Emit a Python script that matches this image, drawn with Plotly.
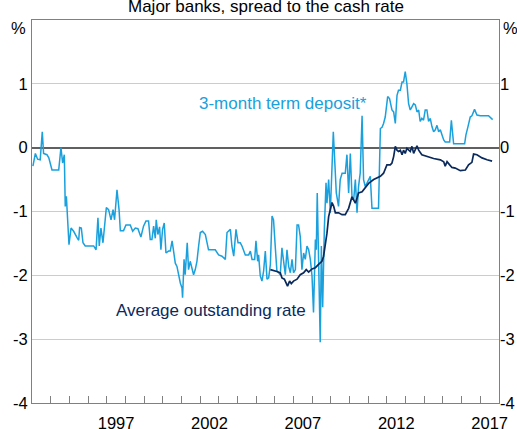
import plotly.graph_objects as go

# 3-month term deposit spread to cash rate (decimal year, %)
td_year = [1993.05,1993.18,1993.30,1993.44,1993.55,1993.62,1993.80,1993.90,1994.07,1994.43,1994.55,1994.64,1994.73,1994.78,1994.84,1994.90,1994.98,
           1995.09,1995.23,1995.41,1995.50,1995.55,1995.64,1995.73,1995.85,1996.30,1996.43,1996.53,1996.60,1996.69,1996.80,1996.98,
           1997.10,1997.23,1997.34,1997.42,1997.55,1997.66,1997.73,1997.90,1998.03,1998.26,1998.39,1998.53,1998.67,1998.83,1998.97,
           1999.10,1999.24,1999.33,1999.42,1999.51,1999.60,1999.65,1999.74,1999.83,1999.90,1999.99,2000.08,2000.17,2000.31,2000.40,
           2000.50,2000.58,2000.67,2000.76,2000.85,2000.94,2001.03,2001.06,2001.14,2001.20,2001.31,2001.38,2001.47,2001.56,2001.65,
           2001.74,2001.83,2001.92,2002.01,2002.13,2002.28,2002.45,2002.81,2002.99,2003.17,2003.35,2003.44,2003.62,2003.70,2003.80,
           2003.92,2004.03,2004.15,2004.24,2004.33,2004.42,2004.60,2004.69,2004.78,2004.92,2004.99,2005.08,2005.13,2005.22,2005.31,
           2005.40,2005.49,2005.58,2005.67,2005.76,2005.85,2005.93,2006.02,2006.11,2006.20,2006.29,2006.38,2006.47,2006.56,2006.65,
           2006.74,2006.83,2006.92,2007.00,2007.10,2007.19,2007.27,2007.36,2007.45,2007.54,2007.63,2007.72,2007.81,2007.90,2007.99,
           2008.07,2008.17,2008.22,2008.27,2008.36,2008.43,2008.49,2008.56,2008.65,2008.74,2008.79,2008.88,2008.97,2009.06,2009.13,
           2009.29,2009.41,2009.50,2009.60,2009.77,2009.86,2009.95,2010.04,2010.13,2010.22,2010.31,2010.40,2010.48,2010.57,2010.67,
           2010.75,2010.84,2010.93,2011.02,2011.11,2011.20,2011.55,2011.65,2011.74,2011.82,2011.91,2012.04,2012.14,2012.27,2012.36,
           2012.45,2012.54,2012.62,2012.72,2012.81,2012.89,2012.98,2013.07,2013.16,2013.25,2013.34,2013.43,2013.52,2013.61,2013.70,
           2013.78,2013.87,2013.96,2014.05,2014.14,2014.23,2014.32,2014.41,2014.50,2014.59,2014.68,2014.77,2014.86,2014.95,2015.04,
           2015.12,2015.36,2015.45,2015.52,2015.57,2016.16,2016.23,2016.34,2016.46,2016.55,2016.69,2016.82,2017.00,2017.44,2017.66]
td_value = [-0.29,-0.09,-0.18,-0.19,0.25,-0.09,-0.11,-0.16,-0.35,-0.35,0.00,-0.24,-0.11,-0.92,-0.76,-1.13,-1.52,
            -1.26,-1.31,-1.41,-1.45,-1.25,-1.26,-1.49,-1.54,-1.54,-1.60,-1.10,-1.54,-1.26,-1.49,-0.94,
            -0.97,-1.13,-0.97,-1.13,-0.66,-0.97,-1.30,-1.30,-1.21,-1.21,-1.31,-1.26,-1.27,-1.40,-1.23,
            -1.15,-1.15,-1.44,-1.44,-1.23,-1.42,-1.13,-1.36,-1.24,-1.60,-1.28,-1.18,-1.65,-1.62,-1.62,
            -1.46,-1.62,-1.81,-1.86,-2.01,-2.12,-2.20,-2.35,-1.75,-1.99,-1.49,-1.91,-1.78,-1.88,-1.99,
            -1.91,-1.78,-1.54,-1.33,-1.31,-1.36,-1.60,-1.60,-1.68,-1.70,-1.75,-1.33,-1.28,-1.54,-1.70,
            -1.28,-1.49,-1.49,-1.54,-1.60,-1.68,-1.68,-1.62,-1.75,-1.75,-1.46,-1.78,-1.68,-2.01,-2.09,
            -1.93,-1.62,-2.06,-2.04,-1.83,-1.07,-1.13,-1.54,-1.93,-1.96,-1.99,-1.57,-1.80,-1.99,-1.60,
            -1.86,-1.96,-1.75,-1.96,-1.91,-1.21,-1.21,-1.39,-1.91,-1.65,-1.75,-1.54,-1.60,-1.75,-2.01,
            -2.58,-1.44,-1.60,-0.71,-2.01,-3.05,-1.54,-2.50,-1.28,-0.55,-0.87,-0.50,-1.02,-0.19,0.25,
            -0.71,-0.92,-0.50,-0.40,-0.40,-0.11,-0.71,-0.09,-0.77,-0.82,-0.50,-1.02,-0.61,-0.40,0.50,
            -0.50,-0.61,-0.56,-0.50,-0.45,-0.95,-0.95,0.30,0.32,0.38,0.48,0.80,0.77,0.59,0.56,
            0.38,0.82,0.90,0.90,1.03,1.03,1.19,1.00,0.69,0.59,0.64,0.69,0.67,0.56,0.59,
            0.41,0.46,0.43,0.59,0.59,0.41,0.46,0.33,0.25,0.28,0.35,0.25,0.28,0.20,0.12,
            0.09,0.09,0.43,0.15,0.06,0.06,0.20,0.33,0.48,0.50,0.60,0.51,0.50,0.50,0.44]

# Average outstanding rate spread to cash rate (decimal year, %)
avg_year = [2005.76,2005.93,2006.11,2006.29,2006.38,2006.51,2006.61,2006.68,2006.79,2006.88,2007.00,2007.19,2007.36,2007.54,
            2007.68,2007.81,2007.99,2008.17,2008.34,2008.52,2008.61,2008.70,2008.79,2008.88,2008.97,2009.06,2009.15,2009.24,
            2009.41,2009.60,2009.77,2009.95,2010.13,2010.31,2010.40,2010.48,2010.67,2010.84,2011.02,2011.29,2011.65,2011.82,
            2012.00,2012.18,2012.27,2012.36,2012.45,2012.54,2012.62,2012.72,2012.81,2012.89,2012.98,2013.07,2013.25,2013.34,
            2013.43,2013.61,2013.70,2013.87,2014.14,2014.50,2014.86,2015.04,2015.12,2015.22,2015.36,2015.48,2015.66,2015.93,
            2016.20,2016.37,2016.55,2016.64,2016.82,2017.09,2017.36,2017.63]
avg_value = [-1.91,-1.92,-1.94,-1.96,-2.04,-2.06,-2.12,-2.17,-2.09,-2.13,-2.09,-2.06,-1.99,-1.96,
             -1.91,-1.95,-1.90,-1.88,-1.83,-1.78,-1.70,-1.55,-1.34,-1.08,-0.94,-0.86,-0.92,-1.02,
             -1.02,-1.05,-1.05,-0.95,-0.77,-0.87,-0.79,-0.71,-0.69,-0.63,-0.56,-0.50,-0.45,-0.40,
             -0.27,-0.27,-0.24,-0.14,0.02,-0.04,-0.06,-0.04,-0.11,-0.04,-0.09,-0.01,-0.06,0.02,
             -0.09,0.03,-0.04,-0.11,-0.14,-0.17,-0.19,-0.22,-0.29,-0.22,-0.27,-0.31,-0.32,-0.36,
             -0.35,-0.27,-0.23,-0.10,-0.11,-0.16,-0.19,-0.21]

year_labels = ["1997", "2002", "2007", "2012", "2017"]
y_ticks = [-4, -3, -2, -1, 0, 1]

LIGHT = "#1aa0dc"
NAVY = "#0b2a5c"
FONT = "Arial, Liberation Sans, sans-serif"

fig = go.Figure()
fig.add_trace(go.Scatter(x=td_year, y=td_value, mode="lines",
                         line=dict(color=LIGHT, width=1.5), hoverinfo="skip"))
fig.add_trace(go.Scatter(x=avg_year, y=avg_value, mode="lines", yaxis="y2",
                         line=dict(color=NAVY, width=1.7), hoverinfo="skip"))

yt_text = [str(v) for v in y_ticks]
fig.update_layout(
    width=517, height=429,
    margin=dict(l=32, r=18, t=20, b=26),
    paper_bgcolor="white", plot_bgcolor="white",
    showlegend=False,
    font=dict(family=FONT, size=16.5, color="black"),
    xaxis=dict(range=[1993, 2018], tickmode="array", automargin=False,
               tickvals=[int(y) + 0.5 for y in year_labels], ticktext=year_labels,
               ticks="", showgrid=False, zeroline=False,
               showline=True, linecolor="#808080", linewidth=1, mirror=True,
               ticklabelstandoff=5,
               minor=dict(tickmode="array", tickvals=list(range(1994, 2018)),
                          ticks="inside", ticklen=7, tickcolor="#808080", tickwidth=1,
                          showgrid=False)),
    yaxis=dict(range=[-4, 2], tickmode="array", tickvals=y_ticks, ticktext=yt_text,
               automargin=False,
               ticks="", showgrid=True, gridcolor="#cccccc", gridwidth=1,
               zeroline=True, zerolinecolor="#606060", zerolinewidth=1.5,
               showline=True, linecolor="#808080", linewidth=1, mirror=True),
    yaxis2=dict(range=[-4, 2], tickmode="array", tickvals=y_ticks, ticktext=yt_text,
                automargin=False,
                overlaying="y", side="right", ticks="", showgrid=False, zeroline=False,
                showline=False),
    annotations=[
        dict(text="Major banks, spread to the cash rate", xref="paper", yref="paper",
             x=0.5, y=1, xanchor="center", yanchor="bottom", yshift=2, showarrow=False,
             font=dict(size=17, family=FONT, color="black")),
        dict(text="%", xref="paper", yref="paper", x=0, y=1, xanchor="right", yanchor="middle",
             xshift=-4, yshift=-8, showarrow=False, font=dict(size=16.5, family=FONT)),
        dict(text="%", xref="paper", yref="paper", x=1, y=1, xanchor="left", yanchor="middle",
             xshift=2, yshift=-8, showarrow=False, font=dict(size=16.5, family=FONT)),
        dict(text="3-month term deposit*", x=2001.85, y=0.69, xanchor="left", yanchor="middle",
             showarrow=False, font=dict(size=17, family=FONT, color=LIGHT)),
        dict(text="Average outstanding rate", x=1997.4, y=-2.55, xanchor="left", yanchor="middle",
             showarrow=False, font=dict(size=17, family=FONT, color=NAVY)),
    ],
)

fig.write_html("out.html", config={"displayModeBar": False},
               post_script="document.body.style.margin='0';document.body.style.padding='0';")
